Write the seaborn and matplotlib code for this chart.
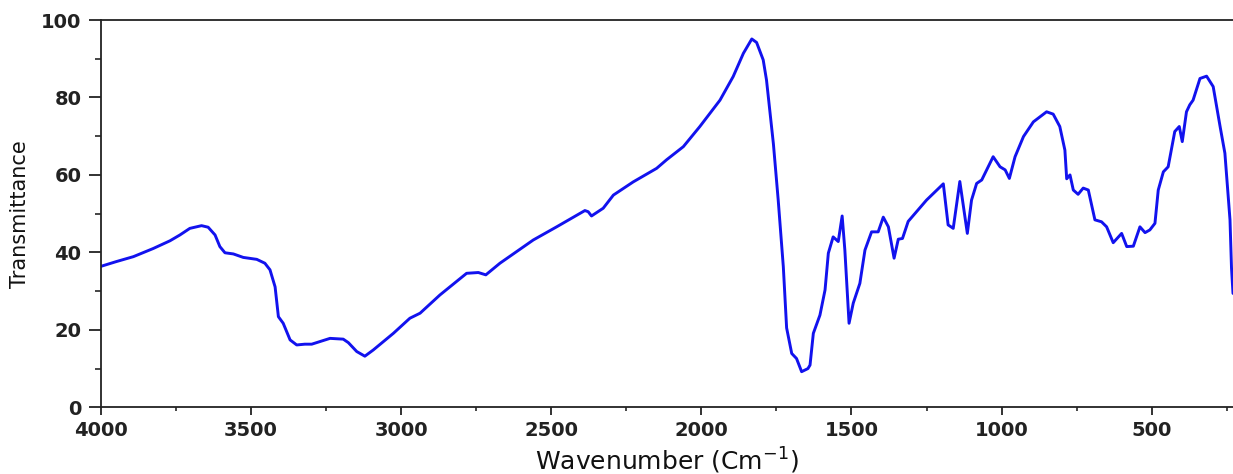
import matplotlib
matplotlib.use("Agg")
import matplotlib.pyplot as plt
import seaborn as sns
import pandas as pd
from matplotlib.ticker import MultipleLocator

# Data
wavenumber = [4000, 3950, 3892, 3826, 3770, 3737, 3704, 3665, 3643, 3620, 3604, 3587, 3559,
              3526, 3481, 3454, 3437, 3420, 3409, 3393, 3370, 3348, 3321, 3298, 3237, 3193,
              3176, 3148, 3121, 3093, 3026, 2971, 2937, 2871, 2782, 2743, 2718, 2671, 2560,
              2482, 2388, 2377, 2366, 2327, 2293, 2227, 2149, 2116, 2060, 2005, 1938, 1894,
              1860, 1832, 1816, 1794, 1783, 1772, 1760, 1744, 1727, 1716, 1699, 1683, 1666,
              1645, 1638, 1627, 1605, 1588, 1577, 1561, 1544, 1531, 1522, 1508, 1494, 1472,
              1455, 1433, 1411, 1394, 1377, 1358, 1344, 1330, 1311, 1250, 1194, 1178, 1161,
              1139, 1114, 1100, 1083, 1066, 1028, 1005, 988, 974, 955, 927, 894, 850, 828,
              806, 789, 783, 772, 761, 745, 728, 711, 689, 667, 650, 628, 600, 583, 561,
              539, 522, 506, 489, 478, 461, 445, 423, 408, 398, 384, 373, 362, 339, 317,
              295, 272, 256, 239, 234, 229]
transmittance = [36.4, 37.6, 38.9, 41.0, 43.0, 44.5, 46.2, 46.9, 46.5, 44.5, 41.5, 39.9, 39.6,
                 38.7, 38.2, 37.2, 35.5, 31.1, 23.4, 21.7, 17.4, 16.1, 16.3, 16.3, 17.8, 17.6,
                 16.7, 14.4, 13.2, 14.8, 19.1, 23.0, 24.3, 29.0, 34.6, 34.8, 34.2, 37.2, 43.2,
                 46.6, 50.8, 50.5, 49.4, 51.4, 54.8, 58.2, 61.7, 63.9, 67.3, 72.5, 79.3, 85.4,
                 91.4, 95.1, 94.2, 89.7, 84.5, 76.5, 68.0, 53.5, 36.3, 20.5, 13.9, 12.6, 9.2,
                 10.0, 10.9, 19.1, 23.8, 30.3, 39.8, 44.0, 42.8, 49.4, 40.6, 21.7, 26.9, 32.0,
                 40.6, 45.3, 45.3, 49.1, 46.6, 38.5, 43.4, 43.6, 48.0, 53.5, 57.7, 47.1, 46.2,
                 58.3, 44.9, 53.5, 57.8, 58.7, 64.7, 62.1, 61.3, 59.1, 64.7, 69.9, 73.7, 76.3, 75.7,
                 72.5, 66.4, 59.0, 60.0, 56.1, 55.0, 56.6, 56.1, 48.4, 47.9, 46.6, 42.5, 44.9, 41.5, 41.6,
                 46.6, 45.1, 45.8, 47.5, 56.1, 60.8, 62.1, 71.2, 72.5, 68.6, 76.3, 78.1, 79.3, 84.9, 85.5,
                 82.8, 72.5, 65.6, 48.4, 36.0, 29.4]

x_ticks = [4000, 3500, 3000, 2500, 2000, 1500, 1000, 500]
y_ticks = [0, 20, 40, 60, 80, 100]

sns.set_style("white")
plt.rcParams['font.family'] = ['DejaVu Sans']

df = pd.DataFrame({"wn": wavenumber, "T": transmittance})

fig = plt.figure(figsize=(12.33, 4.74), dpi=100)
ax = fig.add_axes([0.0819, 0.1407, 0.9181, 0.8171])

sns.lineplot(data=df, x="wn", y="T", sort=False, estimator=None,
             color="#1212ee", linewidth=2.1, ax=ax)
ax.lines[0].set_solid_joinstyle("round")

ax.set_xlim(4000, 229)
ax.set_ylim(0, 100)
ax.set_xticks(x_ticks)
ax.set_yticks(y_ticks)
ax.xaxis.set_minor_locator(MultipleLocator(250))
ax.yaxis.set_minor_locator(MultipleLocator(10))

for side in ["left", "bottom", "top"]:
    ax.spines[side].set_visible(True)
    ax.spines[side].set_color("#222222")
    ax.spines[side].set_linewidth(1.3)
ax.spines["right"].set_visible(False)

ax.tick_params(axis="both", which="major", direction="out", colors="#222222",
               labelsize=14, width=1.3, bottom=True, left=True, top=False, right=False)
ax.tick_params(axis="y", which="major", length=9, pad=5)
ax.tick_params(axis="y", which="minor", length=4.5, width=1.2, left=True)
ax.tick_params(axis="x", which="major", length=6, pad=4)
ax.tick_params(axis="x", which="minor", length=3, width=1.2, bottom=True)
for lbl in ax.get_xticklabels() + ax.get_yticklabels():
    lbl.set_fontweight("semibold")

ax.set_xlabel("Wavenumber (Cm$^{-1}$)", fontsize=18, color="#111111", labelpad=4)
ax.set_ylabel("Transmittance", fontsize=15, color="#111111", labelpad=8)

fig.savefig("out.png", dpi=100, facecolor="white")
